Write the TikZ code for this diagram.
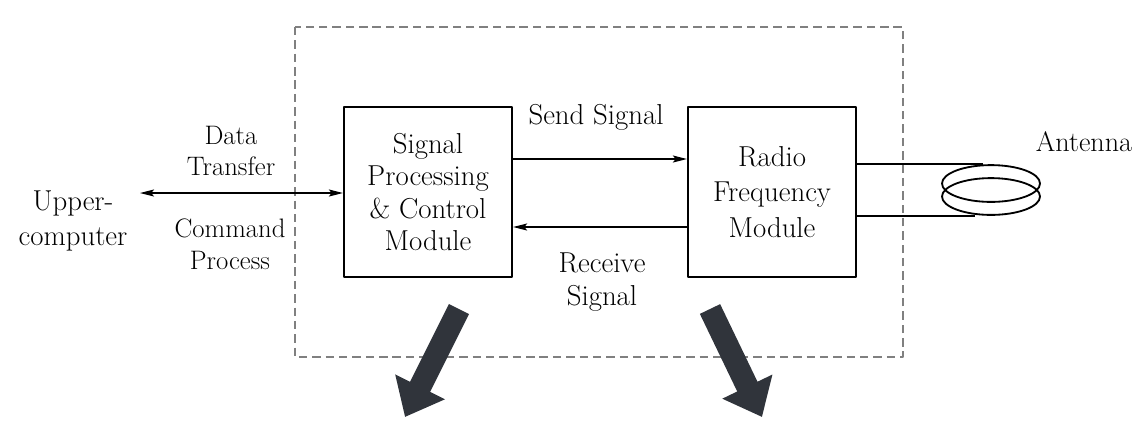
\documentclass[tikz,border=0pt]{standalone}
\usetikzlibrary{arrows.meta,shapes.geometric}
\definecolor{fatgray}{HTML}{30343B}
\begin{document}
\begin{tikzpicture}[x=.025cm, y=-.025cm, line join=round, >={Stealth[length=10pt,width=5pt,inset=2pt]},
    blk/.style={draw, line width=1.5pt, minimum width=4.2cm, minimum height=4.25cm, align=center},
    lbl/.style={align=center, font=\fontsize{19}{22.5}\selectfont},
    fat/.style={line width=16pt, fatgray, -{Triangle[width=38pt,length=24pt]}},
    coil/.style={draw, ellipse, line width=1.3pt, minimum width=2.45cm, minimum height=.92cm}]
    \useasboundingbox (0,0) rectangle (1145,437);
    \draw[gray, line width=1.2pt, dash pattern=on 6pt off 3.5pt] (295,27) rectangle (903,357);
    \node[blk, font=\fontsize{20.5}{22.8}\selectfont] (spc) at (428,192) {Signal\\Processing\\\& Control\\Module};
    \node[blk, font=\fontsize{20.5}{25.5}\selectfont] (rfm) at (772,192) {Radio\\Frequency\\Module};
    \node[align=center, font=\fontsize{20.5}{25}\selectfont] (upc) at (73,221) {Upper-\\computer};
    \node[lbl] (dt) at (231,151) {Data\\Transfer};
    \node[lbl] (cp) at (230,244) {Command\\Process};
    \node[lbl, font=\fontsize{20.5}{23.5}\selectfont] (snd) at (596,117) {Send Signal};
    \node[lbl, font=\fontsize{20.5}{23.5}\selectfont] (rcv) at (602,282) {Receive\\Signal};
    \node[lbl, font=\fontsize{20}{23.5}\selectfont] (ant) at (1084,142) {Antenna};
    % links
    \coordinate (uc) at (140,193);
    \draw[<->, line width=.9pt] (uc) -- (spc.west |- uc);
    \draw[->, line width=.9pt] (spc.east |- 0,159) -- (rfm.west |- 0,159);
    \draw[->, line width=.9pt] (rfm.west |- 0,227) -- (spc.east |- 0,227);
    % antenna coil
    \node[coil] (coilA) at (991,183.5) {};
    \node[coil] (coilB) at (991,196.5) {};
    \draw[line width=1.2pt] (rfm.east |- coilA.north) -- ([xshift=-.2cm]coilA.north);
    \draw[line width=1.2pt] (rfm.east |- coilB.south) -- ([xshift=-.4cm]coilB.south);
    % big arrows
    \coordinate (fa1) at (459,309);
    \coordinate (fa2) at (405,417);
    \coordinate (fb1) at (710,309);
    \coordinate (fb2) at (762,417);
    \draw[fat] (fa1) -- (fa2);
    \draw[fat] (fb1) -- (fb2);
\end{tikzpicture}
\end{document}
